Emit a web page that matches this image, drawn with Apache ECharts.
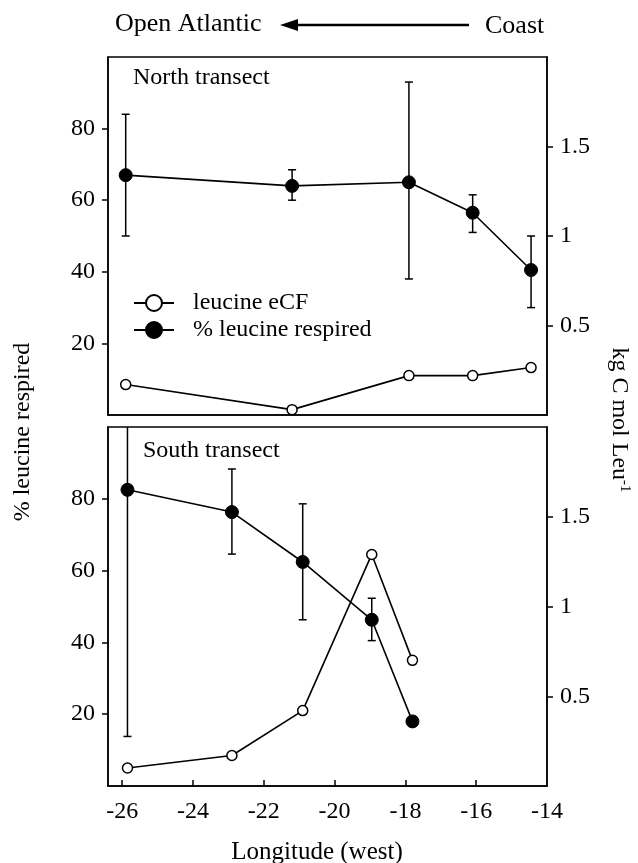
<!DOCTYPE html>
<html>
<head>
<meta charset="utf-8">
<script src="https://cdn.jsdelivr.net/npm/echarts@6/dist/echarts.min.js"></script>
<style>
html,body{margin:0;padding:0;background:#fff;}
#chart{width:638px;height:863px;}
</style>
</head>
<body>
<div id="chart"></div>
<script>
// ---- Data ----
var xTickValues = [-26, -24, -22, -20, -18, -16];
var xLabelValues = [-26, -24, -22, -20, -18, -16, -14];
var leftTickValues = [20, 40, 60, 80];
var rightTickValues = [0.5, 1, 1.5];

// North transect
var northLon     = [-25.9, -21.2, -17.9, -16.1, -14.45];
var northResp    = [67, 64, 65, 56.5, 40.5];
var northRespHi  = [84, 68.5, 93, 61.5, 50];
var northRespLo  = [50, 60, 38, 51, 30];
var northECF     = [0.17, 0.03, 0.22, 0.22, 0.265];

// South transect
var southLon     = [-25.85, -22.9, -20.9, -18.95, -17.8];
var southResp    = [82.5, 76.3, 62.4, 46.3, 18];
var southRespHi  = [102, 88.3, 78.6, 52.3, null];
var southRespLo  = [13.8, 64.6, 46.3, 40.5, null];
var southECF     = [0.10, 0.17, 0.42, 1.29, 0.70];

var FONT = 'Liberation Serif';

function pairs(xs, ys) {
  return xs.map(function (x, i) { return [x, ys[i]]; });
}
function errs(xs, lo, hi) {
  var out = [];
  xs.forEach(function (x, i) {
    if (lo[i] != null && hi[i] != null) out.push([x, lo[i], hi[i]]);
  });
  return out;
}
function errRender(params, api) {
  var x = api.value(0), lo = api.value(1), hi = api.value(2);
  var pHi = api.coord([x, hi]);
  var pLo = api.coord([x, lo]);
  var w = 4;
  var st = { stroke: '#000', lineWidth: 1.5 };
  return {
    type: 'group',
    children: [
      { type: 'line', shape: { x1: pHi[0], y1: pHi[1], x2: pLo[0], y2: pLo[1] }, style: st },
      { type: 'line', shape: { x1: pHi[0] - w, y1: pHi[1], x2: pHi[0] + w, y2: pHi[1] }, style: st },
      { type: 'line', shape: { x1: pLo[0] - w, y1: pLo[1], x2: pLo[0] + w, y2: pLo[1] }, style: st }
    ]
  };
}

var axisFont = { fontFamily: FONT, fontSize: 24, color: '#000' };

function xAxis(gridIndex, showLabels) {
  return {
    type: 'value', gridIndex: gridIndex, min: -26.4, max: -14,
    axisLine: { show: true, lineStyle: { color: '#000', width: 1.5 } },
    axisTick: { show: showLabels, inside: true, length: 6, customValues: xTickValues, lineStyle: { color: '#000', width: 1.5 } },
    axisLabel: Object.assign({ show: showLabels, margin: 14, customValues: xLabelValues }, axisFont),
    splitLine: { show: false }
  };
}
function yLeft(gridIndex) {
  return {
    type: 'value', gridIndex: gridIndex, min: 0, max: 100, position: 'left',
    axisLine: { show: true, lineStyle: { color: '#000', width: 1.5 } },
    axisTick: { show: true, length: 6, customValues: leftTickValues, lineStyle: { color: '#000', width: 1.5 } },
    axisLabel: Object.assign({ margin: 13, customValues: leftTickValues }, axisFont),
    splitLine: { show: false }
  };
}
function yRight(gridIndex) {
  return {
    type: 'value', gridIndex: gridIndex, min: 0, max: 2, position: 'right',
    axisLine: { show: true, lineStyle: { color: '#000', width: 1.5 } },
    axisTick: { show: true, length: 6, customValues: rightTickValues, lineStyle: { color: '#000', width: 1.5 } },
    axisLabel: Object.assign({ margin: 13, customValues: rightTickValues }, axisFont),
    splitLine: { show: false }
  };
}

function filledLine(name, xi, yi, data) {
  return {
    type: 'line', name: name, xAxisIndex: xi, yAxisIndex: yi, data: data,
    symbol: 'circle', symbolSize: 13, z: 4,
    lineStyle: { color: '#000', width: 1.6 },
    itemStyle: { color: '#000', borderColor: '#000', borderWidth: 1 },
    emphasis: { disabled: true }, animation: false
  };
}
function openLine(name, xi, yi, data) {
  return {
    type: 'line', name: name, xAxisIndex: xi, yAxisIndex: yi, data: data,
    symbol: 'circle', symbolSize: 10, z: 4,
    lineStyle: { color: '#000', width: 1.6 },
    itemStyle: { color: '#fff', borderColor: '#000', borderWidth: 1.5 },
    emphasis: { disabled: true }, animation: false
  };
}
function errSeries(xi, yi, data) {
  return {
    type: 'custom', xAxisIndex: xi, yAxisIndex: yi, data: data,
    renderItem: errRender, clip: true, z: 3, encode: { x: 0, y: [1, 2] },
    animation: false, silent: true
  };
}

var chart = echarts.init(document.getElementById('chart'), null, { renderer: 'canvas' });
chart.setOption({
  backgroundColor: '#fff',
  animation: false,
  textStyle: { fontFamily: FONT },
  grid: [
    { left: 108, right: 91, top: 57, height: 358, show: true, borderColor: '#000', borderWidth: 1.5, backgroundColor: 'transparent' },
    { left: 108, right: 91, top: 427, height: 359, show: true, borderColor: '#000', borderWidth: 1.5, backgroundColor: 'transparent' }
  ],
  xAxis: [xAxis(0, false), xAxis(1, true)],
  yAxis: [yLeft(0), yRight(0), yLeft(1), yRight(1)],
  legend: {
    data: ['leucine eCF', '% leucine respired'],
    orient: 'vertical', left: 128, top: 286,
    itemWidth: 40, itemHeight: 20, itemGap: 3,
    selectedMode: false,
    textStyle: { fontFamily: FONT, fontSize: 24, color: '#000', lineHeight: 24, padding: [0, 0, 0, 14] }
  },
  series: [
    errSeries(0, 0, errs(northLon, northRespLo, northRespHi)),
    openLine('leucine eCF', 0, 1, pairs(northLon, northECF)),
    filledLine('% leucine respired', 0, 0, pairs(northLon, northResp)),
    errSeries(1, 2, errs(southLon, southRespLo, southRespHi)),
    openLine('leucine eCF', 1, 3, pairs(southLon, southECF)),
    filledLine('% leucine respired', 1, 2, pairs(southLon, southResp))
  ],
  graphic: [
    { type: 'text', x: 115, y: 24, style: { text: 'Open Atlantic', fontFamily: FONT, fontSize: 26, fill: '#000', textAlign: 'left', textVerticalAlign: 'middle' } },
    { type: 'line', shape: { x1: 292, y1: 25, x2: 469, y2: 25 }, style: { stroke: '#000', lineWidth: 2.5 } },
    { type: 'polygon', shape: { points: [[280, 25], [298, 19], [298, 31]] }, style: { fill: '#000' } },
    { type: 'text', x: 485, y: 26, style: { text: 'Coast', fontFamily: FONT, fontSize: 26, fill: '#000', textAlign: 'left', textVerticalAlign: 'middle' } },
    { type: 'text', x: 133, y: 78, style: { text: 'North transect', fontFamily: FONT, fontSize: 24, fill: '#000', textAlign: 'left', textVerticalAlign: 'middle' } },
    { type: 'text', x: 143, y: 451, style: { text: 'South transect', fontFamily: FONT, fontSize: 24, fill: '#000', textAlign: 'left', textVerticalAlign: 'middle' } },
    { type: 'text', x: 317, y: 852, style: { text: 'Longitude (west)', fontFamily: FONT, fontSize: 25, fill: '#000', textAlign: 'center', textVerticalAlign: 'middle' } },
    { type: 'text', x: 23, y: 432, rotation: Math.PI / 2, style: { text: '% leucine respired', fontFamily: FONT, fontSize: 24, fill: '#000', textAlign: 'center', textVerticalAlign: 'middle' } },
    { type: 'text', x: 619, y: 420, rotation: -Math.PI / 2, style: {
        text: '{a|kg C mol Leu}{s|-1}', fontFamily: FONT, fill: '#000', textAlign: 'center', textVerticalAlign: 'middle',
        rich: { a: { fontFamily: FONT, fontSize: 24, lineHeight: 26 }, s: { fontFamily: FONT, fontSize: 15, verticalAlign: 'top', lineHeight: 26 } } } }
  ]
});
</script>
</body>
</html>
